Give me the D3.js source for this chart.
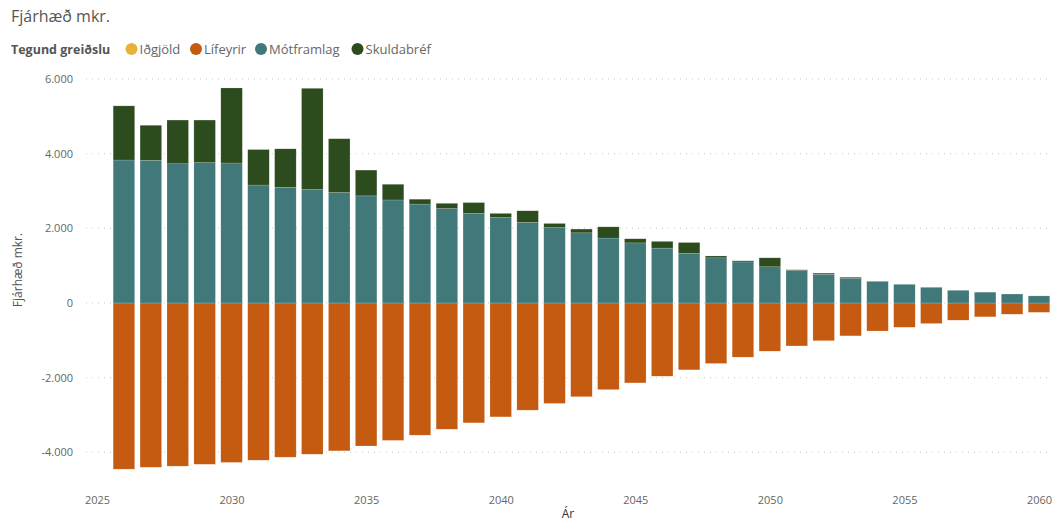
<!DOCTYPE html>
<html><head><meta charset="utf-8">
<script src="https://cdn.jsdelivr.net/npm/d3@7"></script>
<style>
body{margin:0;background:#fff;}
svg{display:block;font-family:"Open Sans","Noto Sans",sans-serif;}
</style></head>
<body><svg id="c" width="1057" height="523"></svg>
<script>
const years = d3.range(2026, 2061);
const seriesNames = ["Iðgjöld","Lífeyrir","Mótframlag","Skuldabréf"];
const seriesColors = ["#E8B23A","#C55A11","#41797B","#2D4C1E"];
const idgjold = years.map(() => 0);
const lifeyrir = [-4450,-4400,-4370,-4320,-4270,-4210,-4130,-4050,-3960,-3830,-3680,-3540,-3380,-3210,-3050,-2870,-2690,-2510,-2320,-2140,-1960,-1790,-1620,-1450,-1290,-1150,-1010,-880,-750,-650,-550,-460,-370,-300,-250];
const motframlag = [3830,3820,3730,3760,3750,3160,3100,3040,2960,2870,2760,2650,2530,2400,2290,2160,2020,1880,1740,1610,1470,1330,1210,1100,970,870,770,660,580,500,420,340,290,240,190];
const skuldabref = [1450,940,1170,1140,2010,950,1030,2710,1440,690,420,130,140,290,110,310,110,100,300,110,180,290,50,30,240,20,30,30,0,0,0,0,0,0,0];
const yTicks = [-4000,-2000,0,2000,4000,6000];
const xTicks = [2025,2030,2035,2040,2045,2050,2055,2060];

const rows = years.map((y,i)=>({year:y,"Iðgjöld":idgjold[i],"Lífeyrir":lifeyrir[i],"Mótframlag":motframlag[i],"Skuldabréf":skuldabref[i]}));
const svg = d3.select("#c");
const x = d3.scaleLinear().domain([2025,2060]).range([97,1039]);
const y = d3.scaleLinear().domain([-4800,6000]).range([482.2,79]);
const color = d3.scaleOrdinal().domain(seriesNames).range(seriesColors);
const fmt = v => d3.format(",")(v).replace(/,/g,".").replace("−","-");

// grid
svg.append("g").selectAll("line").data(yTicks).join("line")
  .attr("x1",86).attr("x2",1052).attr("y1",d=>y(d)).attr("y2",d=>y(d))
  .attr("stroke","#c8c8c8").attr("stroke-width",1).attr("stroke-dasharray","1,5");

// y axis
const ya = svg.append("g").attr("transform","translate(73,0)")
  .call(d3.axisLeft(y).tickValues(yTicks).tickFormat(fmt).tickSize(0).tickPadding(0));
ya.select(".domain").remove();
ya.selectAll("text").attr("fill","#666").attr("font-size","11px").attr("font-family","'Open Sans',sans-serif");

// x axis
const xa = svg.append("g").attr("transform","translate(0,496)")
  .call(d3.axisBottom(x).tickValues(xTicks).tickFormat(d3.format("d")).tickSize(0).tickPadding(0));
xa.select(".domain").remove();
xa.selectAll("text").attr("fill","#666").attr("font-size","11px").attr("font-family","'Open Sans',sans-serif");

// bars
const stack = d3.stack().keys(seriesNames).offset(d3.stackOffsetDiverging);
const layers = stack(rows);
const bw = 21.5;
svg.append("g").selectAll("g").data(layers).join("g")
  .attr("fill",d=>color(d.key))
  .selectAll("rect").data(d=>d.filter(p=>p[1]-p[0]!==0)).join("rect")
  .attr("x",d=>x(d.data.year)-bw/2).attr("width",bw)
  .attr("y",d=>y(Math.max(d[0],d[1])))
  .attr("height",d=>Math.abs(y(d[0])-y(d[1])))
  .attr("stroke","#ffffff").attr("stroke-opacity",0.3).attr("stroke-width",0.5);

// titles
svg.append("text").attr("x",11).attr("y",22).text("Fjárhæð mkr.")
  .attr("font-size","16px").attr("fill","#555");
svg.append("text").attr("transform","translate(22,270) rotate(-90)").attr("text-anchor","middle")
  .text("Fjárhæð mkr.").attr("font-size","12px").attr("fill","#555");
svg.append("text").attr("x",568).attr("y",518).attr("text-anchor","middle")
  .text("Ár").attr("font-size","12px").attr("fill","#333");

// legend
const lg = svg.append("g");
lg.append("text").attr("x",11).attr("y",53.5).text("Tegund greiðslu")
  .attr("font-size","12.5px").attr("font-weight","bold").attr("fill","#555");
const legendX = [131.5,196,261,357.5];
seriesNames.forEach((n,i)=>{
  lg.append("circle").attr("cx",legendX[i]).attr("cy",49).attr("r",6).attr("fill",seriesColors[i]);
  lg.append("text").attr("x",legendX[i]+8).attr("y",53.5).text(n).attr("font-size","13px").attr("fill","#666");
});
</script></body></html>
